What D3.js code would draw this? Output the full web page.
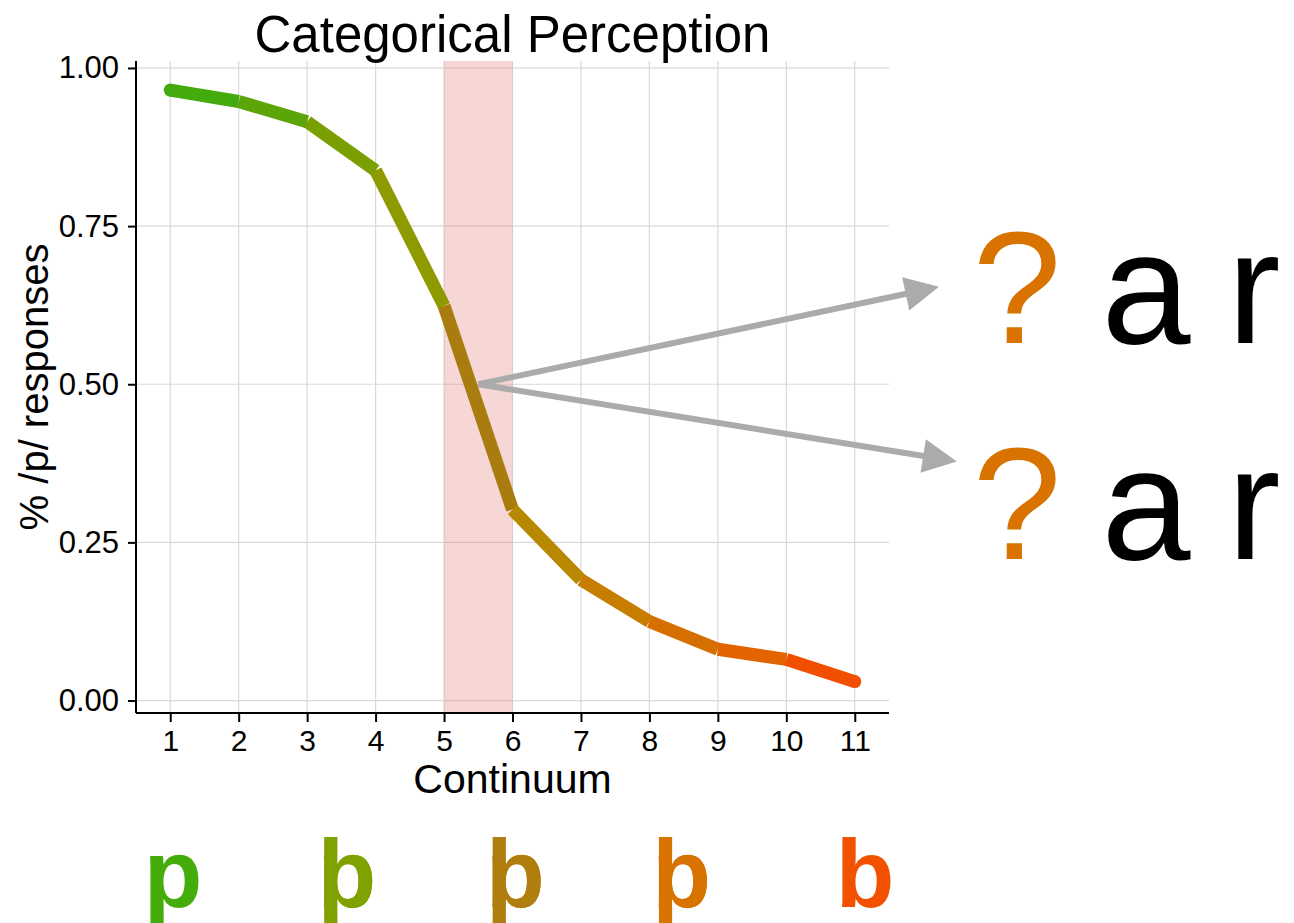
<!DOCTYPE html>
<html>
<head>
<meta charset="utf-8">
<script src="https://cdn.jsdelivr.net/npm/d3@7"></script>
<style>
  html, body { margin: 0; padding: 0; background: #fff; }
  svg { display: block; font-family: "Liberation Sans", Arial, Helvetica, sans-serif; }
</style>
</head>
<body>
<svg id="chart" width="1294" height="923"></svg>
<script>
// ---------- data ----------
const continuum = [1, 2, 3, 4, 5, 6, 7, 8, 9, 10, 11];
const pResponses = [0.965, 0.947, 0.915, 0.838, 0.624, 0.302, 0.191, 0.125, 0.081, 0.065, 0.030];
const segmentColors = ["#43ab0e", "#5ca509", "#79a000", "#8f9900", "#a97c10", "#b88900", "#c67d00", "#d57000", "#e26300", "#f14e00", "#f14e00"];
const xTicks = [1, 2, 3, 4, 5, 6, 7, 8, 9, 10, 11];
const yTicks = [0, 0.25, 0.5, 0.75, 1.0];
const yTickLabels = ["0.00", "0.25", "0.50", "0.75", "1.00"];
const boundary = [5, 6];
const arrowStart = [5.5, 0.5];
const arrowEnds = [[12.23, 0.654], [12.49, 0.378]];
const letters = ["p", "b", "b", "b", "b"];
const letterMorphs = [["p"], ["b", "p"], ["b", "p"], ["b", "p"], ["b"]];
const letterPositions = [1.04, 3.58, 6.04, 8.47, 11.15];
const letterColors = ["#44ad0c", "#80a200", "#b07e0e", "#d97300", "#f25100"];
const ambiguousRows = [["?", "a", "r"], ["?", "a", "r"]];
const ambiguousColors = ["#d97300", "#000000", "#000000"];

// ---------- layout ----------
const svg = d3.select("#chart");
const panel = { left: 136, right: 889, top: 61, bottom: 713 };
const x = d3.scaleLinear().domain([0.5, 11.5]).range([panel.left, panel.right]);
const y = d3.scaleLinear().domain([-0.0197, 1.011]).range([panel.bottom, panel.top]);

// gridlines
const grid = svg.append("g");
grid.selectAll("line.v").data(xTicks).enter().append("line")
  .attr("x1", d => x(d)).attr("x2", d => x(d))
  .attr("y1", panel.top).attr("y2", panel.bottom)
  .attr("stroke", "#d9d9d9").attr("stroke-width", 1.2);
grid.selectAll("line.h").data(yTicks).enter().append("line")
  .attr("x1", panel.left).attr("x2", panel.right)
  .attr("y1", d => y(d)).attr("y2", d => y(d))
  .attr("stroke", "#d9d9d9").attr("stroke-width", 1.2);

// category boundary region
svg.append("rect")
  .attr("x", x(boundary[0])).attr("width", x(boundary[1]) - x(boundary[0]))
  .attr("y", panel.top).attr("height", panel.bottom - panel.top)
  .attr("fill", "rgb(225,122,115)").attr("fill-opacity", 0.3);

// axes
const yAxis = d3.axisLeft(y).tickValues(yTicks).tickFormat((d, i) => yTickLabels[i]).tickSize(8).tickPadding(9);
const gy = svg.append("g").attr("transform", `translate(${panel.left},0)`).call(yAxis);
gy.select(".domain").attr("d", `M0,${panel.top}V${panel.bottom}`).attr("stroke", "#000").attr("stroke-width", 2);
gy.selectAll(".tick line").attr("stroke", "#000").attr("stroke-width", 2);
gy.selectAll(".tick text").attr("font-size", 31).attr("fill", "#000")
  .attr("font-family", "Liberation Sans, Arial, sans-serif");

const xAxis = d3.axisBottom(x).tickValues(xTicks).tickFormat(d3.format("d")).tickSize(9).tickPadding(8);
const gx = svg.append("g").attr("transform", `translate(0,${panel.bottom})`).call(xAxis);
gx.select(".domain").attr("d", `M${panel.left},0H${panel.right}`).attr("stroke", "#000").attr("stroke-width", 2);
gx.selectAll(".tick line").attr("stroke", "#000").attr("stroke-width", 2);
gx.selectAll(".tick text").attr("font-size", 30).attr("fill", "#000")
  .attr("font-family", "Liberation Sans, Arial, sans-serif");

// curve segments
const pts = continuum.map((c, i) => ({ c, v: pResponses[i], col: segmentColors[i] }));
const segs = d3.pairs(pts);
svg.append("g").selectAll("line").data(segs).enter().append("line")
  .attr("x1", d => x(d[0].c)).attr("y1", d => y(d[0].v))
  .attr("x2", d => x(d[1].c)).attr("y2", d => y(d[1].v))
  .attr("stroke", d => d[0].col).attr("stroke-width", 13).attr("stroke-linecap", "butt");
// rounded ends
svg.append("g").selectAll("circle").data([pts[0], pts[pts.length - 1]]).enter().append("circle")
  .attr("cx", d => x(d.c)).attr("cy", d => y(d.v)).attr("r", 6.5)
  .attr("fill", (d, i) => i === 0 ? segmentColors[0] : segmentColors[segmentColors.length - 2]);

// arrows
const arrowG = svg.append("g");
arrowEnds.forEach(e => {
  const x0 = x(arrowStart[0]), y0 = y(arrowStart[1]);
  const x1 = x(e[0]), y1 = y(e[1]);
  const dx = x1 - x0, dy = y1 - y0, L = Math.hypot(dx, dy);
  const ux = dx / L, uy = dy / L;
  const headLen = 34, headHalf = 17;
  const bx = x1 - ux * headLen, by = y1 - uy * headLen;
  arrowG.append("line")
    .attr("x1", x0).attr("y1", y0).attr("x2", bx + ux * 2).attr("y2", by + uy * 2)
    .attr("stroke", "#ababab").attr("stroke-width", 6);
  arrowG.append("path")
    .attr("d", `M${x1},${y1}L${bx - uy * headHalf},${by + ux * headHalf}L${bx + uy * headHalf},${by - ux * headHalf}Z`)
    .attr("fill", "#ababab");
});

// titles
svg.append("text").attr("x", (panel.left + panel.right) / 2).attr("y", 52)
  .attr("text-anchor", "middle").attr("font-size", 51).attr("fill", "#000")
  .text("Categorical Perception");
svg.append("text").attr("x", (panel.left + panel.right) / 2).attr("y", 793)
  .attr("text-anchor", "middle").attr("font-size", 41).attr("fill", "#000")
  .text("Continuum");
svg.append("text").attr("transform", `translate(48,${(panel.top + panel.bottom) / 2}) rotate(-90)`)
  .attr("text-anchor", "middle").attr("font-size", 40).attr("fill", "#000")
  .text("% /p/ responses");

// ambiguous words on the right
const rowBaselines = [343, 559];
const glyphX = [1017, 1146, 1254];
ambiguousRows.forEach((row, r) => {
  svg.append("g").selectAll("text").data(row).enter().append("text")
    .attr("x", (d, i) => glyphX[i]).attr("y", rowBaselines[r])
    .attr("text-anchor", "middle").attr("font-size", 160)
    .attr("fill", (d, i) => ambiguousColors[i])
    .text(d => d);
});

// morphing letters under the axis (clipped at the bottom edge, as in the reference)
const lettersG = svg.append("g");
letterMorphs.forEach((glyphs, i) => {
  glyphs.forEach(g => {
    lettersG.append("text")
      .attr("x", x(letterPositions[i])).attr("y", 907)
      .attr("text-anchor", "middle").attr("font-size", 96).attr("font-weight", "bold")
      .attr("fill", letterColors[i])
      .text(g);
  });
});
</script>
</body>
</html>
